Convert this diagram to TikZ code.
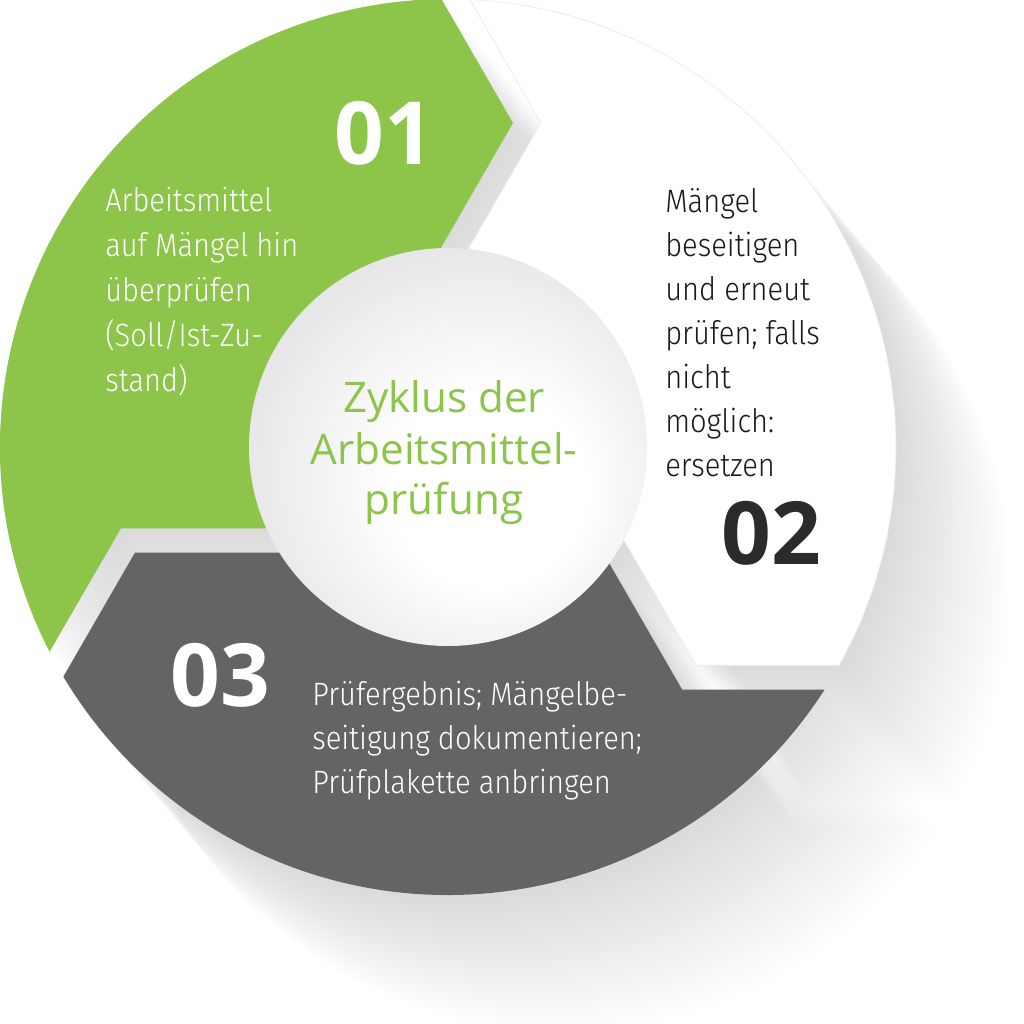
\documentclass[tikz,border=0pt]{standalone}
\usepackage{fontspec}
\setmainfont{Open Sans}
\newfontfamily\bodyfont{Fira Sans Light}[FakeStretch=0.9]
\newfontfamily\numfont{Open Sans Bold}
\definecolor{segGreen}{RGB}{141,196,74}
\definecolor{segGray}{RGB}{99,100,102}
\definecolor{numDark}{RGB}{43,43,43}
\definecolor{txtDark}{RGB}{25,25,25}
\pgfdeclareradialshading{discshade}{\pgfpoint{7bp}{-7bp}}{color(0bp)=(white); color(12bp)=(white); color(35bp)=(black!13); color(50bp)=(black!13)}
\newcommand\segpath{(90.84:448) -- (65,324) -- (92.26:198) arc[start angle=92.26,end angle=204.3,radius=198] -- (-327.1,-81.5) -- (207.2:448) arc[start angle=207.2,end angle=90.84,radius=448] -- cycle}
\begin{document}
\begin{tikzpicture}[x=0.025cm,y=0.025cm,
  bodytxt/.style={font=\bodyfont\fontsize{23}{28}\selectfont, anchor=base west, inner sep=0pt},
  numtxt/.style={font=\numfont\fontsize{62}{62}\selectfont, anchor=base, inner sep=0pt},
  centertxt/.style={font=\fontsize{30}{36}\selectfont, text=segGreen, anchor=base, inner sep=0pt},
  shadowcopy/.style={fill=black, opacity=0.0037}]
\useasboundingbox (-448,-577) rectangle (576,447);
\fill[white] (-448,-577) rectangle (576,447);
% long soft shadow
\foreach \k in {1,...,36}{
  \begin{scope}[shift={({\k*5*0.643},{-\k*5*0.766})}]
    \foreach \r in {0,-120,120} \fill[shadowcopy, rotate=\r] \segpath;
    \fill[shadowcopy] (0,0) circle[radius=198];
  \end{scope}
}
% segments
\fill[segGreen] \segpath;
\filldraw[fill=white, draw=black!8, line width=0.5pt, rotate=-120] \segpath;
\fill[segGray, rotate=120] \segpath;
% inner disc
\shade[shading=discshade] (0,0) circle[radius=199];
% numbers
\node[numtxt, text=white] (n1) at (-63.5,282) {01};
\node[numtxt, text=numDark] (n2) at (323,-118) {02};
\node[numtxt, text=white] (n3) at (-228,-259) {03};
% center text
\node[centertxt] (c1) at (-4,34) {Zyklus der};
\node[centertxt] (c2) at (-4,-18) {Arbeitsmittel-};
\node[centertxt] (c3) at (-4,-68) {prüfung};
% segment texts
\foreach \t [count=\i] in {{Arbeitsmittel}, {auf Mängel hin}, {überprüfen}, {(Soll/Ist-Zu-}, {stand)}}
  \node[bodytxt, text=white] (g\i) at ({-343},{235-45*(\i-1)}) {\t};
\foreach \t [count=\i] in {{Mängel}, {beseitigen}, {und erneut}, {prüfen; falls}, {nicht}, {möglich:}, {ersetzen}}
  \node[bodytxt, text=txtDark] (w\i) at ({217},{234-44*(\i-1)}) {\t};
\foreach \t [count=\i] in {{Prüfergebnis; Mängelbe-}, {seitigung dokumentieren;}, {Prüfplakette anbringen}}
  \node[bodytxt, text=white] (d\i) at ({-136},{-258-44*(\i-1)}) {\t};
\end{tikzpicture}
\end{document}
